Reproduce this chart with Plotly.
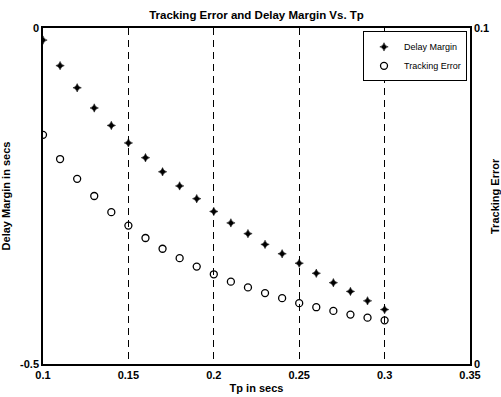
import plotly.graph_objects as go

tp = [0.10, 0.11, 0.12, 0.13, 0.14, 0.15, 0.16, 0.17, 0.18, 0.19, 0.20,
      0.21, 0.22, 0.23, 0.24, 0.25, 0.26, 0.27, 0.28, 0.29, 0.30]
delay_margin = [-0.018, -0.056, -0.089, -0.119, -0.145, -0.171, -0.193, -0.214,
                -0.235, -0.254, -0.273, -0.290, -0.306, -0.322, -0.336, -0.350,
                -0.365, -0.379, -0.392, -0.406, -0.419]
tracking_error = [0.0682, 0.0610, 0.0551, 0.0500, 0.0452, 0.0412, 0.0375, 0.0343,
                  0.0315, 0.0290, 0.0267, 0.0245, 0.0228, 0.0211, 0.0196, 0.0181,
                  0.0169, 0.0158, 0.0147, 0.0138, 0.0130]
x_ticks = [0.1, 0.15, 0.2, 0.25, 0.3, 0.35]
x_tick_labels = ["0.1", "0.15", "0.2", "0.25", "0.3", "0.35"]

FONT = "Liberation Sans, Arial, sans-serif"
BFONT = dict(family=FONT, size=11, color="black", weight="bold")

W, H = 501, 397
ML, MR, MT, MB = 43, 31, 28, 33
PW = W - ML - MR

fig = go.Figure()
fig.add_trace(go.Scatter(
    x=tp, y=delay_margin, mode="markers", name="Delay Margin",
    marker=dict(symbol="star-diamond", size=6, color="black",
                line=dict(width=0.5, color="black")),
    yaxis="y"))
fig.add_trace(go.Scatter(
    x=tp, y=tracking_error, mode="markers", name="Tracking Error",
    marker=dict(symbol="circle-open", size=7, color="black",
                line=dict(width=1.3, color="black")),
    yaxis="y2"))

fig.update_layout(
    width=W, height=H,
    margin=dict(l=ML, r=MR, t=MT, b=MB, autoexpand=False),
    paper_bgcolor="white", plot_bgcolor="white",
    font=dict(family=FONT, size=10, color="black"),
    hovermode=False,
    title=dict(text="<b>Tracking Error and Delay Margin Vs. Tp</b>",
               x=256.5 / W, xanchor="center", y=1 - 15 / H, yanchor="middle",
               font=dict(family=FONT, size=11.5, color="black", weight="bold")),
    showlegend=True,
    legend=dict(x=0.993, xanchor="right", y=0.99, yanchor="top",
                bgcolor="white", bordercolor="black", borderwidth=1,
                font=dict(family=FONT, size=9, color="black"),
                itemwidth=30, tracegroupgap=0, traceorder="normal"),
    xaxis=dict(range=[0.1, 0.35], tickvals=x_ticks,
               ticktext=["<b>%s</b>" % t for t in x_tick_labels],
               showgrid=True, gridcolor="black", griddash="7px,5px", gridwidth=1,
               zeroline=False, showline=True, linecolor="black", linewidth=1.5,
               mirror=True, ticks="", automargin=False,
               tickfont=BFONT,
               title=dict(text="<b>Tp in secs</b>", standoff=4, font=BFONT)),
    yaxis=dict(range=[-0.5, 0], tickvals=[-0.5, 0],
               ticktext=["<b>-0.5</b>", "<b>0</b>"],
               showgrid=False, zeroline=False, showline=True, linecolor="black",
               linewidth=1.5, ticks="", automargin=False,
               tickfont=BFONT,
               title=dict(text="<b>Delay Margin in secs</b>", standoff=10, font=BFONT)),
    yaxis2=dict(range=[0, 0.1], tickvals=[0, 0.1],
                ticktext=["<b>0</b>", "<b>0.1</b>"],
                overlaying="y", side="right", showgrid=False, zeroline=False,
                showline=True, linecolor="black", linewidth=1.5, ticks="",
                automargin=False, tickfont=BFONT),
    annotations=[dict(text="<b>Tracking Error</b>", textangle=-90,
                      xref="paper", yref="paper",
                      x=(495 - ML) / PW, y=0.5, xanchor="center", yanchor="middle",
                      showarrow=False, font=BFONT)],
)

fig.write_html("out.html",
               config={"displayModeBar": False},
               post_script="document.body.style.margin='0';"
                           "document.body.style.overflow='hidden';")
